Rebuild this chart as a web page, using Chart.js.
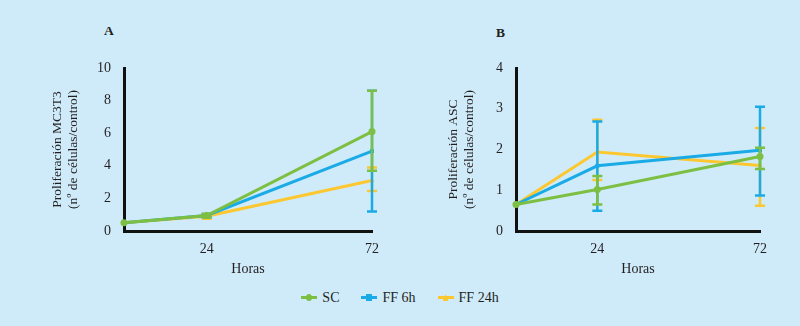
<!DOCTYPE html>
<html>
<head>
<meta charset="utf-8">
<script src="https://cdn.jsdelivr.net/npm/chart.js@4.4.1/dist/chart.umd.min.js"></script>
<style>
  body { margin: 0; width: 800px; height: 326px; overflow: hidden; position: relative;
         background: #cfebfa; font-family: "Liberation Serif", serif; color: #231f20; }
  .panel { position: absolute; top: 0; width: 400px; height: 290px; }
  .lbl { position: absolute; font-weight: bold; font-size: 13.5px; }
  #legend { position: absolute; top: 290px; left: 0; width: 800px; text-align: center; font-size: 14px; }
  .item { display: inline-block; margin: 0 11px; }
  .icon { display: inline-block; position: relative; width: 16px; height: 3px; vertical-align: middle; margin-right: 5px; top: -1px; }
  .dot { position: absolute; left: 5px; top: -2px; width: 6px; height: 7px; }
</style>
</head>
<body>
<div class="lbl" style="left:104px;top:23px">A</div>
<div class="lbl" style="left:496px;top:25px">B</div>
<div class="panel" style="left:0"><canvas id="chartA"></canvas></div>
<div class="panel" style="left:400px"><canvas id="chartB"></canvas></div>
<div id="legend"></div>
<script>
const hours = [0, 24, 72];
const xTicks = [24, 72];
const seriesNames = ["SC", "FF 6h", "FF 24h"];
const colors = ["#7dbf43", "#1aabe6", "#fdc72f"];

// Panel A: MC3T3
const scA = [0.5, 0.95, 6.1];
const ff6A = [0.5, 0.95, 4.9];
const ff24A = [0.5, 0.9, 3.1];
const scA_lo = [null, 0.85, 3.7];
const scA_hi = [null, 1.05, 8.6];
const ff6A_lo = [null, 0.85, 1.2];
const ff6A_hi = [null, 1.05, 8.6];
const ff24A_lo = [null, 0.75, 2.45];
const ff24A_hi = [null, 1.05, 3.9];

// Panel B: ASC
const scB = [0.65, 1.02, 1.83];
const ff6B = [0.65, 1.6, 1.98];
const ff24B = [0.65, 1.94, 1.61];
const scB_lo = [null, 0.65, 1.52];
const scB_hi = [null, 1.35, 2.04];
const ff6B_lo = [null, 0.5, 0.87];
const ff6B_hi = [null, 2.69, 3.05];
const ff24B_lo = [null, 1.25, 0.62];
const ff24B_hi = [null, 2.73, 2.53];

const pointStyles = ["circle", "rect", "triangle"];
const pointSizes = [3.5, 2.8, 3];
const textColor = "#231f20";
const fontFamily = "'Liberation Serif', serif";

const errorBars = {
  id: "errorBars",
  afterDatasetDraw(chart, args) {
    const ds = chart.data.datasets[args.index];
    if (!ds.lo) return;
    const ctx = chart.ctx;
    const x = chart.scales.x, y = chart.scales.y;
    ctx.save();
    ctx.strokeStyle = ds.borderColor;
    ctx.lineWidth = 2.5;
    ds.data.forEach((p, i) => {
      if (ds.lo[i] == null) return;
      const px = x.getPixelForValue(p.x);
      const yl = y.getPixelForValue(ds.lo[i]);
      const yh = y.getPixelForValue(ds.hi[i]);
      ctx.beginPath();
      ctx.moveTo(px, yl); ctx.lineTo(px, yh);
      ctx.moveTo(px - 5, yl); ctx.lineTo(px + 5, yl);
      ctx.moveTo(px - 5, yh); ctx.lineTo(px + 5, yh);
      ctx.stroke();
    });
    ctx.restore();
  }
};

function makeDataset(i, values, lo, hi) {
  return {
    label: seriesNames[i],
    data: hours.map((h, k) => ({ x: h, y: values[k] })),
    lo: lo, hi: hi,
    borderColor: colors[i],
    backgroundColor: colors[i],
    borderWidth: 3,
    pointStyle: pointStyles[i],
    pointRadius: pointSizes[i],
    pointBorderWidth: 0,
    clip: false,
    tension: 0
  };
}

function makeChart(id, datasets, yMax, yTitle, padLeft, yWidth, padRight) {
  return new Chart(document.getElementById(id), {
    type: "line",
    data: { datasets: datasets },
    options: {
      responsive: false,
      animation: false,
      layout: { padding: { left: padLeft, right: padRight, top: 68, bottom: 12 } },
      plugins: { legend: { display: false }, tooltip: { enabled: false } },
      scales: {
        x: {
          type: "linear", min: 0, max: 72,
          afterBuildTicks: (s) => { s.ticks = xTicks.map(v => ({ value: v })); },
          afterFit: (s) => { s.height = 47; },
          grid: { display: false },
          border: { color: "#111", width: 3 },
          ticks: { color: textColor, font: { family: fontFamily, size: 14 }, padding: 2 },
          title: { display: true, text: "Horas", color: textColor, font: { family: fontFamily, size: 14 }, padding: { top: 4, bottom: 0 } }
        },
        y: {
          min: 0, max: yMax,
          afterFit: (s) => { s.width = yWidth; },
          grid: { display: false },
          border: { color: "#111", width: 3 },
          ticks: { stepSize: yMax / 5 >= 2 ? 2 : 1, color: textColor, font: { family: fontFamily, size: 14 }, padding: 5 },
          title: { display: true, text: yTitle, color: textColor, font: { family: fontFamily, size: 13.5 }, padding: 0 }
        }
      }
    },
    plugins: [errorBars]
  });
}

const cA = document.getElementById("chartA");
cA.width = 400; cA.height = 290;
const cB = document.getElementById("chartB");
cB.width = 400; cB.height = 290;

makeChart("chartA", [
  makeDataset(0, scA, scA_lo, scA_hi),
  makeDataset(1, ff6A, ff6A_lo, ff6A_hi),
  makeDataset(2, ff24A, ff24A_lo, ff24A_hi)
], 10, ["Proliferación MC3T3", "(nº de células/control)"], 49, 75, 28);

makeChart("chartB", [
  makeDataset(0, scB, scB_lo, scB_hi),
  makeDataset(1, ff6B, ff6B_lo, ff6B_hi),
  makeDataset(2, ff24B, ff24B_lo, ff24B_hi)
], 4, ["Proliferación ASC", "(nº de células/control)"], 45, 71, 40);

// legend
const legend = document.getElementById("legend");
seriesNames.forEach((name, i) => {
  const shape = i === 0 ? "border-radius:50%;" : i === 2 ? "clip-path:polygon(50% 0,100% 100%,0 100%);" : "";
  legend.innerHTML += `<span class="item"><span class="icon" style="background:${colors[i]}"><span class="dot" style="background:${colors[i]};${shape}"></span></span>${name}</span>`;
});
</script>
</body>
</html>
